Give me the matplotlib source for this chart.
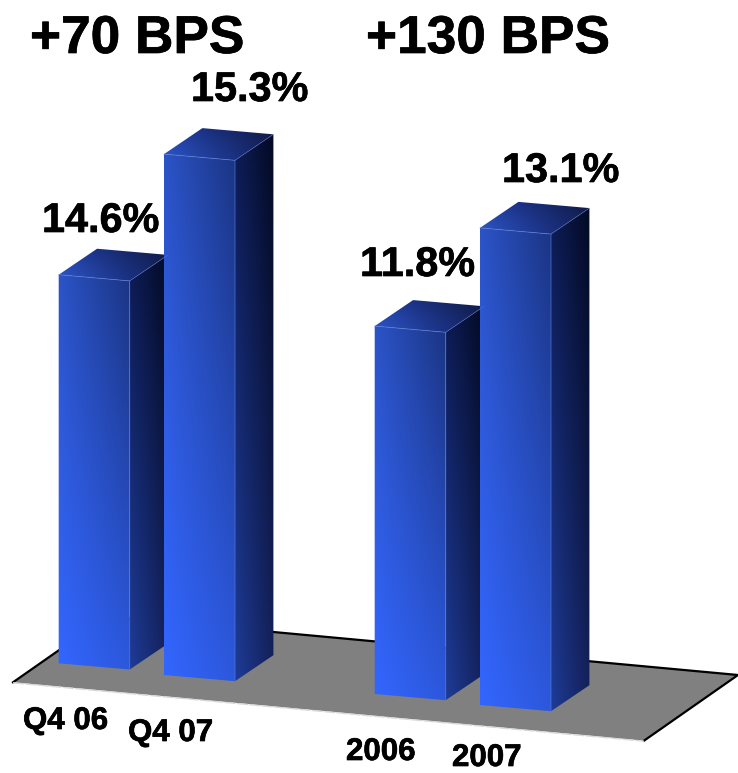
import numpy as np
import matplotlib
matplotlib.use('Agg')
import matplotlib.pyplot as plt
import matplotlib.patheffects as pe
from matplotlib.colors import to_rgb
from matplotlib.patches import Polygon

plt.rcParams['font.family'] = ['Liberation Sans', 'DejaVu Sans']

# data
headlines = ['+70 BPS', '+130 BPS']
categories = ['Q4 06', 'Q4 07', '2006', '2007']
values = [14.6, 15.3, 11.8, 13.1]
value_labels = ['14.6%', '15.3%', '11.8%', '13.1%']

# layout, everything in pixels of the 738x773 picture
bar_x = [58.7, 164, 374.7, 480]
bar_base = [663.3, 675, 694, 705]
bar_group = [0, 0, 1, 1]
# each pair has its own truncated scale: value at the floor, pixels per point
group_floor = [12.544, 7.42]
group_scale = [189.0, 84.0]
bar_w = 71
front_dy = 6.2
depth = (38.4, -26.0)

front_cols = ['#3366ff', '#2c58dc', '#2c54c8', '#1b3584']
side_cols = ['#1e3c98', '#142058', '#0e1d58', '#030a24']
top_cols = ['#2c54c4', '#1a3084', '#1a3084', '#121c48']

bold = [pe.withStroke(linewidth=0.5, foreground='black')]


def face(ax, o, e1, e2, cols):
    o, e1, e2 = np.array(o), np.array(e1), np.array(e2)
    corners = np.array([o, o + e1, o + e1 + e2, o + e2])
    x0, y0 = np.floor(corners.min(axis=0)) - 1
    x1, y1 = np.ceil(corners.max(axis=0)) + 1
    xs, ys = np.meshgrid(np.arange(x0, x1, 0.5) + 0.25, np.arange(y0, y1, 0.5) + 0.25)
    inv = np.linalg.inv(np.column_stack([e1, e2]))
    u = np.clip(inv[0, 0] * (xs - o[0]) + inv[0, 1] * (ys - o[1]), 0, 1)[..., None]
    v = np.clip(inv[1, 0] * (xs - o[0]) + inv[1, 1] * (ys - o[1]), 0, 1)[..., None]
    c = [np.array(to_rgb(k)) for k in cols]
    img = (1 - v) * ((1 - u) * c[0] + u * c[1]) + v * ((1 - u) * c[2] + u * c[3])
    im = ax.imshow(img, extent=(x0, x1, y1, y0), aspect='auto', interpolation='bilinear', zorder=3)
    im.set_clip_path(Polygon(corners, closed=True, transform=ax.transData))


def draw_bar(ax, x, base, value, group):
    h = (value - group_floor[group]) * group_scale[group]
    front = (x, base)
    e_w = (bar_w, front_dy)
    face(ax, front, e_w, (0, -h), front_cols)
    face(ax, (x + bar_w, base + front_dy), depth, (0, -h), side_cols)
    face(ax, (x, base - h), e_w, depth, top_cols)
    tl = (x, base - h)
    tr = (x + bar_w, base - h + front_dy)
    br = (x + bar_w, base + front_dy)
    back = (tr[0] + depth[0], tr[1] + depth[1])
    edge = '#5f7fd8'
    ax.plot([tl[0], tr[0], br[0]], [tl[1], tr[1], br[1]], color=edge, lw=0.6, alpha=0.7, zorder=4)
    ax.plot([tr[0], back[0]], [tr[1], back[1]], color=edge, lw=0.5, alpha=0.5, zorder=4)


fig = plt.figure(figsize=(7.38, 7.73), dpi=100)
ax = fig.add_axes([0, 0, 1, 1])

# floor
floor = np.array([(13, 682.3), (107, 616.6), (738, 675), (644, 740.7)])
ax.add_patch(Polygon(floor, closed=True, facecolor='#808080', edgecolor='none', zorder=1))
ax.plot([13, 107, 738, 644], [682.3, 616.6, 675, 740.7], color='black', lw=1.6, zorder=2)
ax.plot([13, 644], [682.8, 741.2], color='#d8d8d8', lw=1.0, ls=(0, (8, 1)), zorder=2)

for i in range(len(values)):
    draw_bar(ax, bar_x[i], bar_base[i], values[i], bar_group[i])

# text
ax.text(30, 53, headlines[0], fontsize=38.3, fontweight='bold', zorder=5, path_effects=bold)
ax.text(366, 53, headlines[1], fontsize=38.3, fontweight='bold', zorder=5, path_effects=bold)

label_x = [42, 191, 360, 502]
label_y = [232, 101, 276, 182]
for i in range(len(values)):
    ax.text(label_x[i], label_y[i], value_labels[i], fontsize=29.8, fontweight='bold', zorder=5, path_effects=bold)

cat_x = [23, 128, 346, 452]
cat_y = [729, 741, 760, 766]
for i in range(len(categories)):
    ax.text(cat_x[i], cat_y[i], categories[i], fontsize=22.5, fontweight='bold', zorder=5, path_effects=bold)

ax.set_xlim(0, 738)
ax.set_ylim(773, 0)
ax.axis('off')
fig.savefig('out.png', dpi=100)
